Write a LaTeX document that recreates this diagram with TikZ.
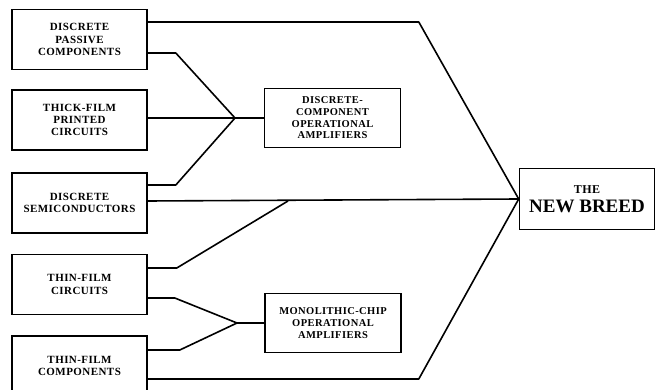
\documentclass[tikz,border=0pt]{standalone}
\usepackage{fontspec}
\setmainfont{Liberation Serif}
\newfontfamily\labelfont[LetterSpace=4]{Liberation Serif}
\usepackage{tikz}
\usetikzlibrary{positioning, calc}
\tikzset{
  srcbox/.style={draw, line width=1.6pt, minimum width=135pt, minimum height=60pt,
                 inner sep=0pt, align=center, font=\labelfont\bfseries\fontsize{11}{12.3}\selectfont},
  opbox/.style={draw, line width=1.6pt, minimum width=136pt, minimum height=59pt,
                inner sep=0pt, align=center, font=\labelfont\bfseries\fontsize{10.5}{11.7}\selectfont},
  link/.style={line width=1.6pt, line join=round}
}

\begin{document}
\begin{tikzpicture}[x=1pt, y=-1pt]
      \useasboundingbox (0,0) rectangle (659,390);
      \clip (0,0) rectangle (659,390);
      \fill[white] (0,0) rectangle (659,390);
      \foreach \nm/\yy/\txt in {
        dpc/39.5/{DISCRETE\\PASSIVE\\COMPONENTS},
        tfp/120/{THICK-FILM\\PRINTED\\CIRCUITS},
        dsc/203/{DISCRETE\\SEMICONDUCTORS},
        tfc/284.5/{THIN-FILM\\CIRCUITS},
        tfm/366/{THIN-FILM\\COMPONENTS}}{
        \node[srcbox] (\nm) at (79.5,\yy) {\txt};
      }
      \node[opbox] (dca) at (332.5,118) {DISCRETE-\\COMPONENT\\OPERATIONAL\\AMPLIFIERS};
      \node[opbox] (mca) at (333,323) {MONOLITHIC-CHIP\\OPERATIONAL\\AMPLIFIERS};
      \node[draw, line width=1.6pt, minimum width=135pt, minimum height=61pt, inner sep=0pt,
            align=center] (nb) at (587,199)
            {{\labelfont\bfseries\fontsize{12}{13}\selectfont THE}\\[5pt]{\bfseries\fontsize{19}{20}\selectfont NEW BREED}};
      \coordinate (hubA) at (235,118);
      \coordinate (hubB) at (237,323);
      \coordinate (join) at (288,201);
      \draw[link] ([yshift=17.5pt]dpc.east) -- ++(271,0) -- (nb.west);
      \draw[link] ([yshift=-13.5pt]dpc.east) -- ++(28,0) -- (hubA);
      \draw[link] (tfp.east |- hubA) -- (hubA);
      \draw[link] ([yshift=18pt]dsc.east) -- ++(28,0) -- (hubA);
      \draw[link] (hubA) -- (dca.west);
      \draw[link] ([yshift=2pt]dsc.east) -- (nb.west);
      \draw[link] ([yshift=16.5pt]tfc.east) -- ++(29,0) -- (join);
      \draw[link] ([yshift=-13.5pt]tfc.east) -- ++(27,0) -- (hubB);
      \draw[link] ([yshift=16pt]tfm.east) -- ++(32,0) -- (hubB);
      \draw[link] (hubB) -- (mca.west);
      \draw[link] ([yshift=-13pt]tfm.east) -- ++(271,0) -- (nb.west);
    \end{tikzpicture}
\end{document}
